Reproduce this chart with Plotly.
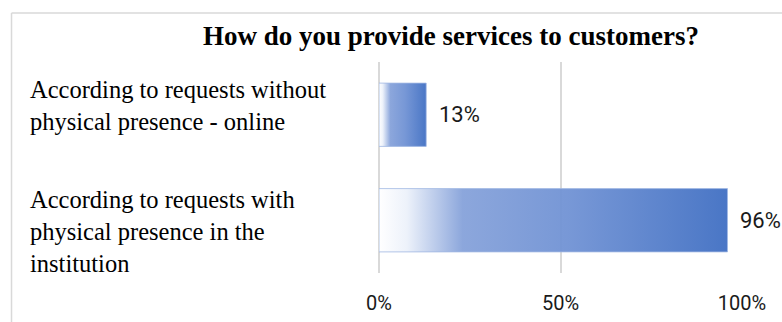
import plotly.graph_objects as go

# ---- data ----
categories = [
    "According to requests without<br>physical presence - online",
    "According to requests with<br>physical presence in the<br>institution",
]
values = [13, 96]
value_labels = ["13%", "96%"]
tick_vals = [0, 50, 100]
tick_text = ["0%", "50%", "100%"]
title_text = "How do you provide services to customers?"

BAR_HALF = 0.3
grad = [[0.0, "rgba(255,255,255,0.95)"], [0.08, "rgba(236,241,250,0.95)"],
        [0.24, "rgba(134,162,218,0.95)"], [0.55, "rgba(112,146,212,0.95)"],
        [1.0, "rgba(68,114,196,0.97)"]]

fig = go.Figure()
for i, v in enumerate(values):
    fig.add_trace(go.Scatter(
        x=[0, v, v, 0, 0],
        y=[i - BAR_HALF, i - BAR_HALF, i + BAR_HALF, i + BAR_HALF, i - BAR_HALF],
        mode="lines", fill="toself",
        line=dict(color="rgba(160,184,228,0.8)", width=1),
        fillgradient=dict(type="horizontal", colorscale=grad),
        hoverinfo="skip", showlegend=False,
    ))

# value labels
for i, (v, t) in enumerate(zip(values, value_labels)):
    fig.add_annotation(x=v, y=i, xref="x", yref="y", text=t, showarrow=False,
                       xanchor="left", yanchor="middle", xshift=11,
                       font=dict(family="Roboto", size=22, color="#1a1a1a"))

# category labels (left aligned)
label_shift = [9, -11]
for i, c in enumerate(categories):
    fig.add_annotation(x=-0.9656, y=i, xref="paper", yref="y", text=c,
                       showarrow=False, xanchor="left", yanchor="middle",
                       align="left", yshift=label_shift[i],
                       font=dict(family="Liberation Serif", size=24.5, color="#000000"))

# outer chart border (top and left)
fig.add_shape(type="line", xref="paper", yref="paper",
              x0=(11 - 379) / 363.5, x1=(782 - 379) / 363.5 + 0.01,
              y0=1 + (62 - 13) / 211, y1=1 + (62 - 13) / 211,
              line=dict(color="#d9d9d9", width=1.5))
fig.add_shape(type="line", xref="paper", yref="paper",
              x0=(11 - 379) / 363.5, x1=(11 - 379) / 363.5,
              y0=1 + (62 - 13) / 211, y1=-(322 - 273) / 211 - 0.05,
              line=dict(color="#d9d9d9", width=1.5))

fig.update_layout(
    width=782, height=322,
    margin=dict(l=379, r=39.5, t=62, b=49, autoexpand=False),
    paper_bgcolor="white", plot_bgcolor="white",
    title=dict(text="<b>" + title_text + "</b>", xref="container", x=451 / 782,
               xanchor="center", y=1 - 35.5 / 322, yanchor="middle",
               automargin=False,
               font=dict(family="Liberation Serif", size=27, color="#000000")),
    xaxis=dict(range=[0, 100], tickvals=tick_vals, ticktext=tick_text,
               showgrid=True, gridcolor="#d9d9d9", gridwidth=1.5,
               zeroline=True, zerolinecolor="#d9d9d9", zerolinewidth=2,
               showline=False, ticks="outside", ticklen=12,
               tickcolor="rgba(0,0,0,0)", automargin=False,
               tickfont=dict(family="Roboto", size=20, color="#1a1a1a"),
               fixedrange=True),
    yaxis=dict(range=[1.5, -0.5], showticklabels=False, showgrid=False,
               zeroline=False, showline=False, fixedrange=True, automargin=False),
    showlegend=False,
)

fig.write_html("out.html")
